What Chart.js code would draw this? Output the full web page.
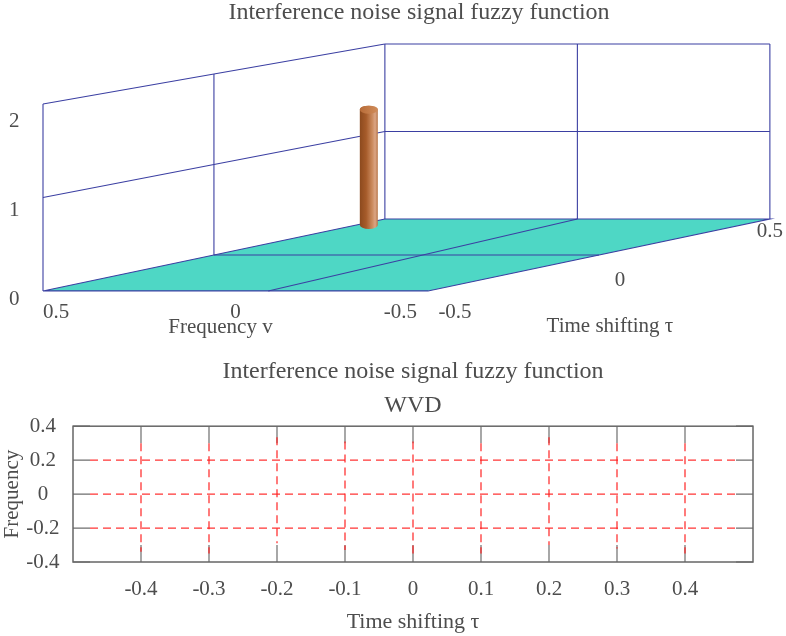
<!DOCTYPE html>
<html><head><meta charset="utf-8">
<script src="https://cdn.jsdelivr.net/npm/chart.js@4"></script>
<style>
html,body{margin:0;padding:0;background:#fff;}
#wrap{position:relative;width:786px;height:636px;overflow:hidden;}
#c1{position:absolute;left:0;top:0;}
#c2{position:absolute;left:0;top:345px;}
</style></head><body>
<div id="wrap"><canvas id="c1" width="786" height="345"></canvas><canvas id="c2" width="786" height="291"></canvas></div>
<script>
// ---------------- data (3D ambiguity plot) ----------------
const freqTicks = [0.5, 0, -0.5];
const freqTickLabels = ['0.5', '0', '-0.5'];
const tauTicks = [-0.5, 0, 0.5];
const tauTickLabels = ['-0.5', '0', '0.5'];
const zTicks = [0, 1, 2];
const zTickLabels = ['0', '1', '2'];
const floorGridFreqFront = [-0.085];
const floorGridFreqBack = [0];
const peakFreq = [0.468];
const peakTau = [0.417];
const peakHeight = [1.31];

// ---------------- data (WVD contour plot) ----------------
const wvdTauTicks = [-0.4, -0.3, -0.2, -0.1, 0, 0.1, 0.2, 0.3, 0.4];
const wvdTauLabels = ['-0.4', '-0.3', '-0.2', '-0.1', '0', '0.1', '0.2', '0.3', '0.4'];
const wvdFreqTicks = [-0.4, -0.2, 0, 0.2, 0.4];
const wvdFreqLabels = ['-0.4', '-0.2', '0', '0.2', '0.4'];
const contourTau = [-0.4, -0.3, -0.2, -0.1, 0, 0.1, 0.2, 0.3, 0.4];
const contourTauTop = [0.30, 0.30, 0.335, 0.31, 0.31, 0.30, 0.335, 0.30, 0.30];
const contourTauBottom = [-0.34, -0.35, -0.29, -0.33, -0.35, -0.35, -0.30, -0.32, -0.35];
const contourFreq = [-0.2, 0, 0.2];
const contourFreqStart = [-0.475, -0.475, -0.475];
const contourFreqEnd = [0.478, 0.478, 0.478];

Chart.defaults.font.family = '"Liberation Serif", "Times New Roman", serif';
Chart.defaults.color = '#4d4d4d';

// ---------------- oblique view of the 3D box ----------------
const VIEW = {depthX: 0.888, zLabelOffset: 0.1011, depthRise: 0.809, zFront: 1.0506, zBack: 0.983};
function proj(nu, tau, z) {
  const d = tau + 0.5;
  return {x: (0.5 - nu) + d * VIEW.depthX,
          y: VIEW.zLabelOffset + d * VIEW.depthRise + z * (VIEW.zFront + (VIEW.zBack - VIEW.zFront) * d)};
}
const zMax = Math.max(...zTicks);
const fMax = Math.max(...freqTicks), fMin = Math.min(...freqTicks);
const tMax = Math.max(...tauTicks), tMin = Math.min(...tauTicks);

const polylines = [];
zTicks.filter(z => z > 0).forEach(z => polylines.push([[fMax, tMin, z], [fMax, tMax, z]]));
tauTicks.forEach(t => polylines.push([[fMax, t, 0], [fMax, t, zMax]]));
zTicks.filter(z => z > 0).forEach(z => polylines.push([[fMax, tMax, z], [fMin, tMax, z]]));
freqTicks.filter(f => f < fMax).forEach(f => polylines.push([[f, tMax, 0], [f, tMax, zMax]]));
polylines.push([[fMax, tMin, 0], [fMin, tMin, 0], [fMin, tMax, 0], [fMax, tMax, 0], [fMax, tMin, 0]]);
polylines.push([[fMax, 0, 0], [fMin, 0, 0]]);
polylines.push([[floorGridFreqFront[0], tMin, 0], [floorGridFreqBack[0], tMax, 0]]);

const boxColor = '#3b3fa2';
const topDatasets = polylines.map(pl => ({
  data: pl.map(p => proj(p[0], p[1], p[2])),
  showLine: true, borderColor: boxColor, borderWidth: 1.1, pointRadius: 0, clip: false, fill: false
}));

function px(chart, p) {
  return {x: chart.scales.x.getPixelForValue(p.x), y: chart.scales.y.getPixelForValue(p.y)};
}

const box3d = {
  id: 'box3d',
  beforeDatasetsDraw(chart) {
    const ctx = chart.ctx;
    const c = [[fMax, tMin], [fMin, tMin], [fMin, tMax], [fMax, tMax]].map(q => px(chart, proj(q[0], q[1], 0)));
    ctx.save();
    ctx.beginPath();
    c.forEach((p, i) => i ? ctx.lineTo(p.x, p.y) : ctx.moveTo(p.x, p.y));
    ctx.closePath();
    ctx.fillStyle = '#4ed7c5';
    ctx.fill();
    ctx.restore();
  },
  afterDatasetsDraw(chart) {
    const ctx = chart.ctx;
    peakFreq.forEach((f, i) => {
      const b = px(chart, proj(f, peakTau[i], 0));
      const t = px(chart, proj(f, peakTau[i], peakHeight[i]));
      const r = 9, ry = 4;
      ctx.save();
      const g = ctx.createLinearGradient(b.x - r, 0, b.x + r, 0);
      g.addColorStop(0, '#8c4a1e');
      g.addColorStop(0.35, '#a65b2a');
      g.addColorStop(0.7, '#cc8c60');
      g.addColorStop(0.85, '#dba585');
      g.addColorStop(1, '#b77548');
      ctx.beginPath();
      ctx.moveTo(t.x - r, t.y);
      ctx.lineTo(b.x - r, b.y);
      ctx.ellipse(b.x, b.y, r, ry, 0, Math.PI, 0, true);
      ctx.lineTo(t.x + r, t.y);
      ctx.ellipse(t.x, t.y, r, ry, 0, 0, Math.PI, true);
      ctx.closePath();
      ctx.fillStyle = g;
      ctx.fill();
      const g2 = ctx.createLinearGradient(t.x - r, 0, t.x + r, 0);
      g2.addColorStop(0, '#b86c38');
      g2.addColorStop(1, '#d08c5a');
      ctx.beginPath();
      ctx.ellipse(t.x, t.y, r, ry, 0, 0, Math.PI * 2);
      ctx.fillStyle = g2;
      ctx.fill();
      ctx.restore();
    });
  },
  afterDraw(chart) {
    const ctx = chart.ctx;
    ctx.save();
    ctx.fillStyle = '#4d4d4d';
    ctx.textBaseline = 'middle';
    ctx.font = '21px "Liberation Serif", serif';
    const last = freqTicks.length - 1;
    freqTicks.forEach((f, i) => {
      const p = px(chart, proj(f, tMin, 0));
      ctx.textAlign = i === 0 ? 'left' : (i === last ? 'right' : 'center');
      ctx.fillText(freqTickLabels[i], p.x + (i === last ? -11 : 0), p.y + 22);
    });
    const tauNudge = [[27, 22], [21, 26], [0, 13]];
    tauTicks.forEach((t, i) => {
      const p = px(chart, proj(fMin, t, 0));
      ctx.textAlign = 'center';
      ctx.fillText(tauTickLabels[i], p.x + tauNudge[i][0], p.y + tauNudge[i][1]);
    });
    const a = px(chart, proj(0, tMin, 0));
    ctx.textAlign = 'center';
    ctx.fillText('Frequency v', a.x - 15, a.y + 37);
    const b = px(chart, proj(fMin, 0, 0));
    ctx.fillText('Time shifting \u03c4', b.x + 11, b.y + 72);
    ctx.restore();
  }
};

new Chart(document.getElementById('c1'), {
  type: 'scatter',
  data: {datasets: topDatasets},
  options: {
    responsive: false, animation: false,
    layout: {padding: {left: 9, right: 0, top: 0, bottom: 0}},
    plugins: {
      legend: {display: false}, tooltip: {enabled: false},
      title: {display: true, text: 'Interference noise signal fuzzy function', fullSize: false,
              font: {size: 24, weight: 'normal', lineHeight: 1}, padding: {top: 1, bottom: 0}, color: '#4d4d4d'}
    },
    scales: {
      x: {display: false, min: 9 / 385, max: 9 / 385 + 734 / 385},
      y: {
        min: -45 / 89, max: 275 / 89,
        afterBuildTicks: s => { s.ticks = zTicks.map(v => ({value: v})); },
        afterFit: s => { s.width = 43; },
        grid: {display: false}, border: {display: false},
        ticks: {crossAlign: 'far', padding: 0, font: {size: 21, lineHeight: 0.01},
                callback: v => zTickLabels[zTicks.indexOf(v)] ?? ''}
      }
    }
  },
  plugins: [box3d]
});

// ---------------- WVD chart ----------------
const red = 'rgba(255,30,30,0.9)';
const wvdDatasets = [];
contourTau.forEach((t, i) => wvdDatasets.push({
  data: [{x: t, y: contourTauTop[i]}, {x: t, y: contourTauBottom[i]}],
  showLine: true, borderColor: red, borderWidth: 1.3, borderDash: [8, 5], pointRadius: 0
}));
contourFreq.forEach((f, i) => wvdDatasets.push({
  data: [{x: contourFreqStart[i], y: f}, {x: contourFreqEnd[i], y: f}],
  showLine: true, borderColor: red, borderWidth: 1.3, borderDash: [8, 5], pointRadius: 0
}));

const frame = {
  id: 'frame',
  beforeDatasetsDraw(chart) {
    const {ctx, chartArea: a, scales: {x, y}} = chart;
    const L = 17;
    ctx.save();
    ctx.strokeStyle = '#6e6e6e';
    ctx.lineWidth = 1.2;
    ctx.beginPath();
    x.ticks.forEach(t => {
      const xp = x.getPixelForValue(t.value);
      ctx.moveTo(xp, a.top); ctx.lineTo(xp, a.top + L);
      ctx.moveTo(xp, a.bottom); ctx.lineTo(xp, a.bottom - L);
    });
    y.ticks.forEach(t => {
      const yp = y.getPixelForValue(t.value);
      ctx.moveTo(a.left, yp); ctx.lineTo(a.left + L, yp);
      ctx.moveTo(a.right, yp); ctx.lineTo(a.right - L, yp);
    });
    ctx.stroke();
    ctx.restore();
  },
  afterDatasetsDraw(chart) {
    const {ctx, chartArea: a} = chart;
    ctx.save();
    ctx.strokeStyle = '#666';
    ctx.lineWidth = 1.5;
    ctx.strokeRect(a.left, a.top, a.right - a.left, a.bottom - a.top);
    ctx.restore();
  }
};

new Chart(document.getElementById('c2'), {
  type: 'scatter',
  data: {datasets: wvdDatasets},
  options: {
    responsive: false, animation: false,
    layout: {padding: {left: 0, right: 33, top: 0, bottom: 0}},
    plugins: {
      legend: {display: false}, tooltip: {enabled: false},
      title: {display: true, text: ['Interference noise signal fuzzy function', 'WVD'], fullSize: false,
              font: {size: 24, weight: 'normal', lineHeight: 1.4}, padding: {top: 10, bottom: 4}, color: '#4d4d4d'}
    },
    scales: {
      x: {
        min: -0.5, max: 0.5,
        afterBuildTicks: s => { s.ticks = wvdTauTicks.map(v => ({value: v})); },
        afterFit: s => { s.height = 74; },
        grid: {display: false}, border: {display: false},
        ticks: {padding: 7, font: {size: 21}, maxRotation: 0,
                callback: v => wvdTauLabels[wvdTauTicks.indexOf(v)] ?? ''},
        title: {display: true, text: 'Time shifting \u03c4', font: {size: 22}, padding: {top: 0, bottom: 1}}
      },
      y: {
        min: -0.4, max: 0.4,
        afterBuildTicks: s => { s.ticks = wvdFreqTicks.map(v => ({value: v})); },
        afterFit: s => { s.width = 73; },
        grid: {display: false}, border: {display: false},
        ticks: {crossAlign: 'center', padding: 5.5, font: {size: 21},
                callback: v => wvdFreqLabels[wvdFreqTicks.indexOf(v)] ?? ''},
        title: {display: true, text: 'Frequency', font: {size: 21}, padding: 0}
      }
    }
  },
  plugins: [frame]
});
</script>
</body></html>
